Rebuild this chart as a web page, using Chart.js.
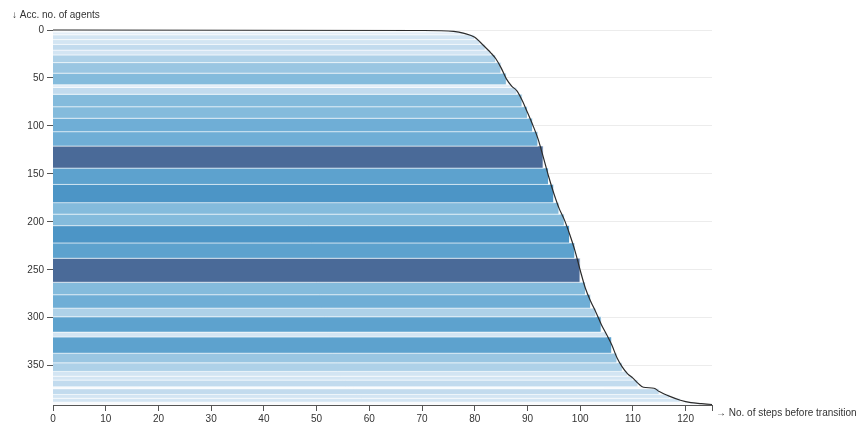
<!DOCTYPE html>
<html>
<head>
<meta charset="utf-8">
<script src="https://cdn.jsdelivr.net/npm/chart.js@4.4.1/dist/chart.umd.min.js"></script>
<style>
  html, body { margin: 0; padding: 0; background: #fff; }
</style>
</head>
<body>
<canvas id="chart" width="865" height="427"></canvas>
<script>
// steps before transition (one bar per value)
const steps = [70, 76, 78, 80, 81, 82, 83, 84, 85, 86,
  87, 88, 89, 90, 91, 92, 93, 94, 95, 96, 97, 98, 99, 100, 101, 102, 103,
  104, 105, 106, 107, 108, 109, 110, 111, 112,
  114, 115, 117, 119, 121, 123, 125];
// agents that needed exactly that many steps
const agents = [1, 1, 3, 5, 5, 6, 5, 8, 11, 12,
  3, 7, 13, 12, 14, 15, 23, 17, 19, 12, 12, 18, 16, 25, 13, 14, 9,
  16, 5, 17, 10, 9, 5, 4, 7, 1,
  1, 6, 4, 4, 1, 1, 1];

const xTicks = [0, 10, 20, 30, 40, 50, 60, 70, 80, 90, 100, 110, 120];
const yTicks = [0, 50, 100, 150, 200, 250, 300, 350];
const xMax = 125;

const yLabel = '↓ Acc. no. of agents';
const xLabel = '→ No. of steps before transition';

// running totals: each bar spans [start, end] agents
const starts = [];
const ends = [];
let acc = 0;
agents.forEach((n) => {
  starts.push(acc);
  acc += n;
  ends.push(acc);
});
const total = acc;

// blues by agent count, navy for the big groups
const blues = ['#f1f6fb', '#e3eef8', '#d3e5f3', '#c2dbee', '#aed1e8',
  '#9ac6e2', '#84bbdc', '#6faed6', '#5da2ce', '#4c95c6'];
function shade(n) {
  if (n >= 20) return '#4a6a98';
  return blues[Math.min(9, Math.floor(n / 2))];
}

const FONT = { family: '"Liberation Sans", Arial, sans-serif', size: 10 };
const INK = '#333';

const barSets = steps.map((s, i) => ({
  data: [
    { x: 0, y: starts[i] },
    { x: s, y: starts[i] },
    { x: s, y: ends[i] },
    { x: 0, y: ends[i] },
  ],
  showLine: true,
  fill: 'shape',
  backgroundColor: shade(agents[i]),
  borderColor: 'rgba(255,255,255,0.55)',
  borderWidth: 1,
  pointRadius: 0,
  tension: 0,
  order: 1,
}));

// cumulative curve through the middle of each bar's right edge
const curve = {
  data: [{ x: 0, y: 0 }].concat(steps.map((s, i) => ({ x: s, y: (starts[i] + ends[i]) / 2 }))),
  showLine: true,
  fill: false,
  borderColor: '#2b2b2b',
  borderWidth: 1.2,
  pointRadius: 0,
  cubicInterpolationMode: 'monotone',
  clip: false,
  order: 0,
};

// axis captions, placed d3-style at the axis ends
const axisLabels = {
  id: 'axisLabels',
  afterDraw(chart) {
    const { ctx, chartArea } = chart;
    ctx.save();
    ctx.font = '10px "Liberation Sans", Arial, sans-serif';
    ctx.fillStyle = INK;
    ctx.textAlign = 'left';
    ctx.textBaseline = 'alphabetic';
    ctx.fillText(yLabel, 12, chartArea.top - 12);
    ctx.fillText(xLabel, chartArea.right + 4, chartArea.bottom + 11);
    ctx.restore();
  },
};

new Chart(document.getElementById('chart'), {
  type: 'scatter',
  data: { datasets: [curve, ...barSets] },
  options: {
    responsive: false,
    animation: false,
    events: [],
    layout: { padding: { left: 0, top: 30, right: 153, bottom: 0 } },
    plugins: { legend: { display: false }, tooltip: { enabled: false } },
    scales: {
      x: {
        type: 'linear',
        min: 0,
        max: xMax,
        border: { display: true, color: '#555' },
        grid: { drawOnChartArea: false, tickLength: 6, color: '#555', tickColor: '#555' },
        ticks: {
          includeBounds: false,
          autoSkip: false,
          maxRotation: 0,
          padding: 2,
          color: INK,
          font: FONT,
          callback: (v) => (v === xMax ? '' : v),
        },
        afterBuildTicks: (axis) => {
          axis.ticks = [...xTicks, xMax].map((v) => ({ value: v }));
        },
        afterFit: (axis) => { axis.height = 22; },
      },
      y: {
        type: 'linear',
        reverse: true,
        min: 0,
        max: total,
        border: { display: false },
        grid: { color: '#ececec', tickColor: '#555', tickLength: 6 },
        ticks: {
          includeBounds: false,
          autoSkip: false,
          padding: 3,
          color: INK,
          font: FONT,
        },
        afterBuildTicks: (axis) => {
          axis.ticks = yTicks.map((v) => ({ value: v }));
        },
        afterFit: (axis) => { axis.width = 53; },
      },
    },
  },
  plugins: [axisLabels],
});
</script>
</body>
</html>
